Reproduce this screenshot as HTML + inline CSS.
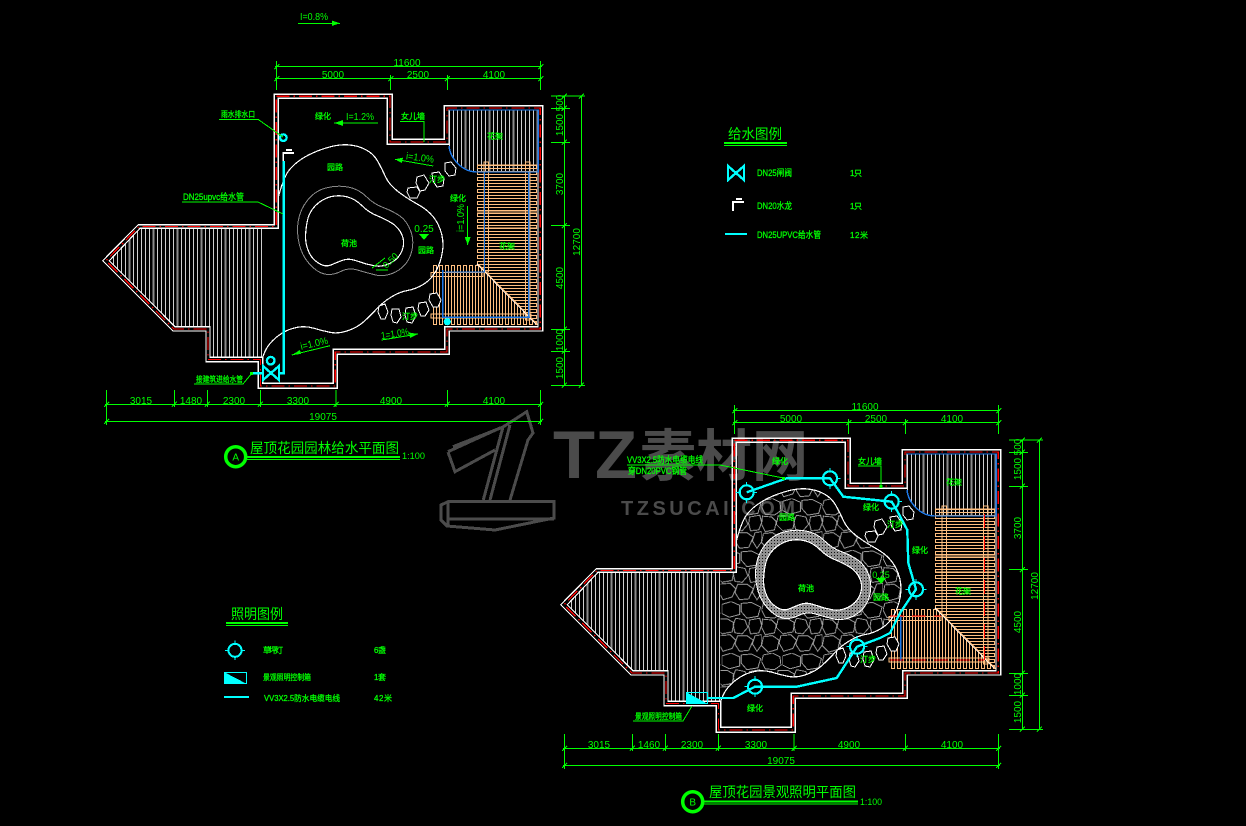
<!DOCTYPE html>
<html><head><meta charset="utf-8"><style>
html,body{margin:0;padding:0;background:#000}
svg{display:block}
text{fill:#0f0;font-family:"Liberation Sans","Noto Sans CJK SC",sans-serif;font-size:10px}
.c{font-size:8px;text-anchor:middle;stroke:#0f0;stroke-width:.3}
.l{font-size:8px;stroke:#0f0;stroke-width:.3}
.m{text-anchor:middle}
.t{font-size:14px}
.w{fill:#4b4b4b;font-weight:bold}
.ln{fill:none;stroke:#fff;stroke-width:1.2}
.gr{fill:none;stroke:#0f0;stroke-width:1}
.cy{fill:none;stroke:#0ff;stroke-width:2.4}
.bl{fill:none;stroke:#1e78e6;stroke-width:1.4}
</style></head><body>
<svg xmlns="http://www.w3.org/2000/svg" width="1246" height="826" viewBox="0 0 1246 826" shape-rendering="crispEdges">
<defs>
<marker id="k" markerUnits="userSpaceOnUse" markerWidth="10" markerHeight="10" refX="5" refY="5" orient="0" overflow="visible"><path d="M2.5 7.5L7.5 2.5M3.5 5H6.5" stroke="#0f0" stroke-width="1" fill="none"/></marker>
<pattern id="hatch" patternUnits="userSpaceOnUse" width="24" height="20">
<path d="M1.5 0V20M5.5 0V20M13.5 0V20M17.5 0V20M21.5 0V20" stroke="#cfcfcf" stroke-width="1"/>
<path d="M9.5 0V20" stroke="#8c8c8c" stroke-width="2"/>
</pattern>
<pattern id="plankH" patternUnits="userSpaceOnUse" x="477" y="165" width="60" height="6">
<rect x=".5" y=".5" width="59" height="3" fill="none" stroke="#ffbf80" stroke-width="1"/>
</pattern>
<pattern id="plankV" patternUnits="userSpaceOnUse" x="433" y="265" width="6" height="60">
<rect x=".5" y=".5" width="3" height="59" fill="none" stroke="#ffbf80" stroke-width="1"/>
</pattern>
<pattern id="cob" patternUnits="userSpaceOnUse" width="66" height="56" patternTransform="scale(.92)">
<g fill="none" stroke="#a4a4a4" stroke-width="1">
<path d="M2 2L12 0L20 4L21 13L14 18L4 17L0 9Z"/>
<path d="M23 3L33 0L42 4L42 14L31 17L23 13Z"/>
<path d="M44 2L55 1L65 6L62 16L50 18L44 11Z"/>
<path d="M1 19L11 20L16 25L14 34L4 36L0 28Z"/>
<path d="M18 19L29 19L36 23L34 33L23 35L16 28Z"/>
<path d="M38 18L48 20L51 28L45 35L37 34L35 25Z"/>
<path d="M53 20L64 18L66 26L63 34L54 35L52 27Z"/>
<path d="M2 38L12 37L19 42L17 52L7 55L0 48Z"/>
<path d="M21 37L32 36L38 42L34 51L24 54L19 45Z"/>
<path d="M40 37L50 37L57 42L52 53L42 54L37 46Z"/>
<path d="M59 37L66 36L66 47L61 54L56 46Z"/>
</g>
</pattern>
<pattern id="mesh" patternUnits="userSpaceOnUse" width="3" height="3">
<rect width="3" height="3" fill="#909090"/>
<rect x="1" y="1" width="1" height="1" fill="#111"/>
</pattern>
<path id="outer" d="M274.3 94.3H392.3V139.3H444.3V105.7H542.7V331H449.3V354.3H337.3V388.3H258.3V361.7H206V331H173L102.7 260.7L138.3 224.7H274.3Z"/>
<path id="inner" d="M278.3 98.3H387.3V144.3H449V110H538V326.7H444.7V349.3H333.3V383.3H262.7V357.3H210V326.7H175L109.3 260.7L140 228.3H278.3Z"/>
<path id="red" d="M276.3 96.3H390V142H447V108H540.3V329H447V352H335.3V386H260.5V359.5H208V329H174L106 260.7L139 226.5H276.3Z"/>
<path id="garden" d="M278.7 195.7Q283.7 177.4 288.7 170.7Q293.7 164 302.9 158.2Q312 152.4 325.4 148.2Q338.7 144 348.7 144.9Q358.7 145.7 366.2 149.9Q373.7 154 377.9 161.5Q382 169 385.4 176.5Q388.7 184 397 190.7Q405.3 197.4 418.7 204.9Q432 212.4 437.9 224Q443.7 235.7 442.9 247.4Q442 259 437 269Q432 279 424 284Q416 289 408 290.4Q400 291.7 391.7 296.7Q383.3 301.7 376.7 308.9Q370 316 364 321.5Q358 327 348.4 330.5Q338.7 334 330.4 332.4Q322 330.7 313.7 328.2Q305.3 325.7 297 327.4Q288.7 329 282 333.2Q275.3 337.4 270.3 343.2Q265.3 349 262.7 357.4"/>
<path id="p1" d="M307 222.4Q308.7 212.4 315.3 205.7Q322 199 330.3 196.8Q338.7 194.7 347 196.8Q355.3 199 362 205.7Q368.7 212.4 377 215.7Q385.3 219 392 223.2Q398.7 227.4 402 234.9Q405.3 242.4 402 250.7Q398.7 259 390.3 263.2Q382 267.4 373.7 265.7Q365.3 264 357 261Q348.7 258 342.8 260.2Q337 262.4 331.1 264.9Q325.3 267.4 318.7 263.2Q312 259 309 252.4Q306 245.7 305.6 239Q305.3 232.4 307 222.4Z"/>
<path id="p2" d="M298.3 220.7Q300.3 209 307.8 199.9Q315.3 190.7 326.2 187.9Q337 185 347.9 187Q358.7 189 366.2 196.5Q373.7 204 382.9 207.4Q392 210.7 399.5 215.7Q407 220.7 410.9 231.6Q414.7 242.4 410.9 254Q407 265.7 396.2 271.6Q385.3 277.4 375.3 274.9Q365.3 272.4 357 269.9Q348.7 267.4 340.4 271.6Q332 275.7 324.5 274Q317 272.4 309.5 264Q302 255.7 299.2 244Q296.3 232.4 298.3 220.7Z"/>
<path id="h1" d="M140 228.3H262.7V357.3H210V326.7H175L109.3 260.7Z"/>
<path id="h2" d="M449 110H538V172H476.7L470 171L460 165L451.7 156.7L449 146Z"/>
<g id="stones" fill="#000" stroke="#fff" stroke-width="1" stroke-linejoin="round">
<path d="M445 163L451 162L456 168L455 175L449 176L445 171Z"/>
<path d="M432 173L439 172L444 179L443 186L437 187L433 181Z"/>
<path d="M417 177L424 175L429 183L425 190L420 191L416 183Z"/>
<path d="M408 188L417 187L420 192L417 198L410 198L407 192Z"/>
<path d="M430 294L437 293L441 300L438 307L433 307L429 300Z"/>
<path d="M419 303L426 302L429 310L425 316L421 316L418 309Z"/>
<path d="M406 308L413 307L416 316L412 323L407 322L405 315Z"/>
<path d="M392 309L399 309L401 317L397 323L393 322L391 315Z"/>
<path d="M379 306L385 304L388 312L385 319L381 319L378 312Z"/>
</g>
<g id="deck">
<path d="M477 165H537V325L477 265Z" fill="url(#plankH)"/>
<path d="M433 265H478L537 325H433Z" fill="url(#plankV)"/>
<path d="M484 162h4.7v110h-4.7zM525.3 162H530V320h-4.7zM431 272.3h52v4h-52zM431 314h100v4H431z" fill="none" stroke="#ffbf80" stroke-width="1"/>
<path d="M477 165H537M477 172H537M477 212H537M477 228H537" stroke="#ffbf80" stroke-width="1.4"/>
<path d="M477 264L536 324" stroke="#fff" stroke-width="1"/>
<path d="M479 265L538 325" stroke="#ffbf80" stroke-width="1"/>
</g>
<g id="dims" class="gr" stroke="#0f0" fill="none">
<path d="M276.7 61V90M540.7 61V90M390.7 75V90M447.3 75V90M106.7 390V425M174.3 390V407M207.3 390V407M260.3 390V407M336 390V407M447.3 390V407M540.7 390V425M551 96H585M551 108.3H570M551 142.3H570M551 225.7H570M551 329.3H570M551 351.3H570M551 385.3H585"/>
<polyline points="276.7,66.7 540.7,66.7" marker-start="url(#k)" marker-end="url(#k)"/>
<polyline points="276.7,78.7 390.7,78.7 447.3,78.7 540.7,78.7" marker-start="url(#k)" marker-mid="url(#k)" marker-end="url(#k)"/>
<polyline points="106.7,404.3 174.3,404.3 207.3,404.3 260.3,404.3 336,404.3 447.3,404.3 540.7,404.3" marker-start="url(#k)" marker-mid="url(#k)" marker-end="url(#k)"/>
<polyline points="106.7,421.3 540.7,421.3" marker-start="url(#k)" marker-end="url(#k)"/>
<polyline points="564.3,96 564.3,108.3 564.3,142.3 564.3,225.7 564.3,329.3 564.3,351.3 564.3,385.3" marker-start="url(#k)" marker-mid="url(#k)" marker-end="url(#k)"/>
<polyline points="581.3,96 581.3,385.3" marker-start="url(#k)" marker-end="url(#k)"/>
</g>
<g id="walls">
<use href="#outer" class="ln"/>
<use href="#inner" class="ln"/>
<use href="#red" fill="none" stroke="#f00" stroke-width="1.3" stroke-dasharray="13 4 1.5 4"/>
</g>
<g id="lamp">
<circle r="7" fill="none" stroke="#0ff" stroke-width="2.2"/>
<path d="M0 -10.5V-7M0 7V10.5M-10.5 0H-7M7 0H10.5" stroke="#0ff" stroke-width="1"/>
</g>
</defs>
<rect width="1246" height="826" fill="#000"/>

<!-- watermark -->
<g fill="none" stroke="#4b4b4b" stroke-width="3">
<path d="M441 505L448 501.7H554V518L495 530L447 526L441 520ZM448 502V526M448 519H554"/>
<path d="M483.3 500L503 427L526.7 411.7L533 433L528 440L510 500M490 500L510 425"/>
<path d="M448 451.7L500 428M448 452L455 471.7L495 450M453 446.7L503 427"/>
</g>
<text class="w" x="553" y="478" style="font-size:68px" textLength="84" lengthAdjust="spacingAndGlyphs">TZ</text>
<text class="w" x="640" y="476" style="font-size:56px" textLength="168" lengthAdjust="spacingAndGlyphs">素材网</text>
<text class="w" x="621" y="515" style="font-size:20px" textLength="174">TZSUCAI.COM</text>

<!-- PLAN A -->
<g>
<use href="#h1" fill="url(#hatch)"/>
<use href="#h2" fill="url(#hatch)"/>
<use href="#deck"/>
<use href="#garden" class="ln"/>
<use href="#p2" fill="none" stroke="#8a8a8a" stroke-width="1"/>
<use href="#p1" class="ln"/>
<use href="#stones"/>
<use href="#walls"/>
<path d="M449 146C450 158 462 172 477 172H538.3V110H449" class="bl" stroke-width="1.6"/>
<path d="M484.5 172V272H445V272M442.7 270V317.3H530M528.7 172V317" class="bl"/>
<use href="#dims"/>
<!-- pipe -->
<path d="M283.7 161V373.3H279" class="cy"/>
<path d="M283.3 161V153H294M286 150H292" fill="none" stroke="#fff" stroke-width="1.8"/>
<path d="M262 373.3H252" class="cy" stroke-width="2.5"/>
<path d="M263 366L279 380V366L263 380Z" class="cy" stroke-width="2"/>
<circle cx="283.3" cy="137.7" r="3.3" fill="#000" stroke="#0ff" stroke-width="2.4"/>
<circle cx="270.7" cy="360.7" r="3.8" fill="#000" stroke="#0ff" stroke-width="2.4"/>
<circle cx="447.3" cy="321.7" r="3.6" fill="#0ff"/>
<!-- leaders -->
<path d="M298 23.3H340" class="gr"/><path d="M332 20.5L340 23.3L332 26Z" fill="#0f0"/>
<path d="M219 119.3H258L283 137" class="gr"/>
<path d="M182 202H258L283 214" class="gr"/>
<path d="M334 123H378" class="gr"/><path d="M343 120L334 123L343 126Z" fill="#0f0"/>
<path d="M400 121.3H424V142" class="gr"/>
<path d="M395 159.3L433.3 166" class="gr"/><path d="M403 157.7L395 159.3L402 163Z" fill="#0f0"/>
<path d="M467.7 206V245" class="gr"/><path d="M464.7 237H470.7L467.7 245Z" fill="#0f0"/>
<path d="M419 234H429L424 240Z" fill="#0f0"/>
<path d="M381.7 340L418 334" class="gr"/><path d="M409 332.5L418 334L410 338Z" fill="#0f0"/>
<path d="M291.7 355L330 345.7" class="gr"/><path d="M300 350L291.7 355L301 354Z" fill="#0f0"/>
<path d="M194 384H243L252 373" class="gr"/>
<rect x="250" y="372" width="3" height="3" fill="#0f0"/>
<path d="M372 268L385 258M376 270L388 270" class="gr"/>
<text x="300" y="20" textLength="28" lengthAdjust="spacingAndGlyphs">I=0.8%</text>
<text class="l" x="221" y="117" textLength="34" lengthAdjust="spacingAndGlyphs">雨水排水口</text>
<text class="l" x="183" y="200" style="font-size:9px" textLength="61" lengthAdjust="spacingAndGlyphs">DN25upvc给水管</text>
<text class="c" x="323" y="119">绿化</text>
<text x="346" y="120" textLength="28" lengthAdjust="spacingAndGlyphs">I=1.2%</text>
<text class="c" x="335" y="170">园路</text>
<text class="c" x="413" y="119">女儿墙</text>
<text class="c" x="495" y="139">花架</text>
<text x="406" y="161" transform="rotate(7 420 158)" textLength="28" lengthAdjust="spacingAndGlyphs">i=1.0%</text>
<text class="c" x="437" y="182">汀步</text>
<text class="c" x="458" y="201">绿化</text>
<text class="m" x="465" y="225" transform="rotate(-90 461 222)" textLength="28" lengthAdjust="spacingAndGlyphs">i=1.0%</text>
<text class="m" x="424" y="232">0.25</text>
<text class="c" x="426" y="253">园路</text>
<text class="c" x="507" y="249">花架</text>
<text class="c" x="349" y="246">荷池</text>
<text class="m" x="391" y="265" transform="rotate(-45 389 262)" style="font-size:9px">0.50</text>
<text x="381" y="337" transform="rotate(-9 395 334)" textLength="28" lengthAdjust="spacingAndGlyphs">1=1.0%</text>
<text class="c" x="410" y="319">汀步</text>
<text x="300" y="347" transform="rotate(-13 313 343)" textLength="28" lengthAdjust="spacingAndGlyphs">i=1.0%</text>
<text class="l" x="196" y="382" textLength="47" lengthAdjust="spacingAndGlyphs">接建筑进给水管</text>
<text class="m" x="407" y="66">11600</text><text class="m" x="333" y="78">5000</text><text class="m" x="418" y="78">2500</text><text class="m" x="494" y="78">4100</text>
<text class="m" x="141" y="404">3015</text><text class="m" x="191" y="404">1480</text><text class="m" x="234" y="404">2300</text><text class="m" x="298" y="404">3300</text><text class="m" x="391" y="404">4900</text><text class="m" x="494" y="404">4100</text><text class="m" x="323" y="420">19075</text>
<text class="m" transform="translate(563 103) rotate(-90)">500</text>
<text class="m" transform="translate(563 125) rotate(-90)">1500</text>
<text class="m" transform="translate(563 184) rotate(-90)">3700</text>
<text class="m" transform="translate(563 278) rotate(-90)">4500</text>
<text class="m" transform="translate(563 340) rotate(-90)">1000</text>
<text class="m" transform="translate(563 368) rotate(-90)">1500</text>
<text class="m" transform="translate(580 242) rotate(-90)">12700</text>
<circle cx="235.7" cy="456.7" r="10" fill="none" stroke="#0f0" stroke-width="3.5" shape-rendering="auto"/>
<text class="m" x="235.7" y="460.5">A</text>
<text class="t" x="250" y="453" textLength="149" lengthAdjust="spacingAndGlyphs">屋顶花园园林给水平面图</text>
<path d="M246 457H400" stroke="#0f0" stroke-width="2"/><path d="M246 459.5H400" stroke="#0f0" stroke-width=".8"/>
<text x="402" y="459" style="font-size:9px" textLength="23" lengthAdjust="spacingAndGlyphs">1:100</text>
</g>

<!-- Water legend -->
<text class="t" x="728" y="139" textLength="54" lengthAdjust="spacingAndGlyphs">给水图例</text>
<path d="M724 143H787" stroke="#0f0" stroke-width="2"/><path d="M724 145.5H787" stroke="#0f0" stroke-width=".8"/>
<path d="M728 166L744 180V166L728 180Z" class="cy"/>
<text class="l" x="757" y="176" style="font-size:9px" textLength="35" lengthAdjust="spacingAndGlyphs">DN25闸阀</text>
<text class="l" x="850" y="176" textLength="12">1只</text>
<path d="M733 211V202H744M736 199H742" fill="none" stroke="#fff" stroke-width="2"/>
<text class="l" x="757" y="209" style="font-size:9px" textLength="35" lengthAdjust="spacingAndGlyphs">DN20水龙</text>
<text class="l" x="850" y="209" textLength="12">1只</text>
<path d="M725 234H747" class="cy"/>
<text class="l" x="757" y="238" style="font-size:9px" textLength="64" lengthAdjust="spacingAndGlyphs">DN25UPVC给水管</text>
<text class="l" x="850" y="238" textLength="18">12米</text>

<!-- Light legend -->
<text class="t" x="231" y="619" textLength="52" lengthAdjust="spacingAndGlyphs">照明图例</text>
<path d="M226 623H288" stroke="#0f0" stroke-width="2"/><path d="M226 625.5H288" stroke="#0f0" stroke-width=".8"/>
<use href="#lamp" transform="translate(235 650.3) scale(.93)"/>
<text class="l" x="263" y="653" textLength="20">草坪灯</text>
<text class="l" x="374" y="653" textLength="12">6盏</text>
<rect x="224.5" y="672.5" width="22" height="11" fill="#000" stroke="#0ff"/>
<path d="M224 672L247 684H224Z" fill="#0ff"/>
<text class="l" x="263" y="680" textLength="48" lengthAdjust="spacingAndGlyphs">景观照明控制箱</text>
<text class="l" x="374" y="680" textLength="12">1套</text>
<path d="M224 697H249" class="cy"/>
<text class="l" x="264" y="701" textLength="76" lengthAdjust="spacingAndGlyphs">VV3X2.5防水电缆电线</text>
<text class="l" x="374" y="701" textLength="18">42米</text>

<!-- PLAN B -->
<g transform="translate(458 344)">
<path d="M278.7 195.7Q283.7 177.4 288.7 170.7Q293.7 164 302.9 158.2Q312 152.4 325.4 148.2Q338.7 144 348.7 144.9Q358.7 145.7 366.2 149.9Q373.7 154 377.9 161.5Q382 169 385.4 176.5Q388.7 184 397 190.7Q405.3 197.4 418.7 204.9Q432 212.4 437.9 224Q443.7 235.7 442.9 247.4Q442 259 437 269Q432 279 424 284Q416 289 408 290.4Q400 291.7 391.7 296.7Q383.3 301.7 376.7 308.9Q370 316 364 321.5Q358 327 348.4 330.5Q338.7 334 330.4 332.4Q322 330.7 313.7 328.2Q305.3 325.7 297 327.4Q288.7 329 282 333.2Q275.3 337.4 270.3 343.2Q265.3 349 262.7 357.4V228.3H278.7Z" fill="url(#cob)"/>
<use href="#h1" fill="url(#hatch)"/>
<use href="#h2" fill="url(#hatch)"/>
<use href="#deck"/>
<use href="#garden" class="ln"/>
<use href="#p2" fill="#000"/>
<use href="#p2" fill="url(#mesh)" stroke="#fff" stroke-width="1"/>
<use href="#p1" fill="#000" stroke="#fff" stroke-width="1.2"/>
<use href="#stones"/>
<use href="#walls"/>
<path d="M449 146C450 158 462 172 477 172H538.3V110H449" class="bl" stroke-width="1.6"/>
<path d="M442.7 272V317" class="bl"/>
<path d="M526.3 170V317M432 272H483M432 316H526" fill="none" stroke="#f00" stroke-width="1" stroke-dasharray="14 8"/>
<use href="#dims"/>
</g>
<!-- light wiring -->
<path d="M708 698H733.3L755 686.7H796.7L836.7 678L857 646.7L880 638L890 633L900 613L916 589.3L908.3 563L907.3 530L896.7 510L891.7 501.7L843.3 496.7L830 478.3H786.7L746.7 492.3" class="cy" stroke-linejoin="round"/>
<use href="#lamp" transform="translate(755 686.7)"/>
<use href="#lamp" transform="translate(857 646.7)"/>
<use href="#lamp" transform="translate(916 589.3)"/>
<use href="#lamp" transform="translate(891.7 501.7)"/>
<use href="#lamp" transform="translate(830 478.3)"/>
<use href="#lamp" transform="translate(746.7 492.3)"/>
<rect x="686.5" y="692.5" width="21" height="11" fill="none" stroke="#0ff"/>
<path d="M686 692L708 704H686Z" fill="#0ff"/>
<path d="M627 465H720L783 478" class="gr"/>
<rect x="782" y="477" width="3" height="3" fill="#0f0"/>
<path d="M633 721H683L692 706" class="gr"/>
<path d="M858 466H881V487" class="gr"/><rect x="879.5" y="485" width="3" height="3" fill="#0f0"/>
<path d="M876 578H886L881 584Z" fill="#0f0"/>
<text class="l" x="627" y="463" style="font-size:9px" textLength="76" lengthAdjust="spacingAndGlyphs">VV3X2.5防水电缆电线</text>
<text class="l" x="628" y="474" style="font-size:9px" textLength="59" lengthAdjust="spacingAndGlyphs">穿DN20PVC钢管</text>
<text class="c" x="780" y="464">绿化</text>
<text class="c" x="870" y="464">女儿墙</text>
<text class="c" x="787" y="520">园路</text>
<text class="c" x="871" y="510">绿化</text>
<text class="c" x="895" y="527">汀步</text>
<text class="c" x="920" y="553">绿化</text>
<text class="m" x="881" y="578" style="font-size:9px">0.25</text>
<text class="c" x="881" y="600">园路</text>
<text class="c" x="954" y="485">花架</text>
<text class="c" x="963" y="594">花架</text>
<text class="c" x="806" y="591">荷池</text>
<text class="c" x="755" y="711">绿化</text>
<text class="c" x="868" y="662">汀步</text>
<text class="l" x="635" y="719" textLength="47" lengthAdjust="spacingAndGlyphs">景观照明控制箱</text>
<g transform="translate(458 344)">
<text class="m" x="407" y="66">11600</text><text class="m" x="333" y="78">5000</text><text class="m" x="418" y="78">2500</text><text class="m" x="494" y="78">4100</text>
<text class="m" x="141" y="404">3015</text><text class="m" x="191" y="404">1460</text><text class="m" x="234" y="404">2300</text><text class="m" x="298" y="404">3300</text><text class="m" x="391" y="404">4900</text><text class="m" x="494" y="404">4100</text><text class="m" x="323" y="420">19075</text>
<text class="m" transform="translate(563 103) rotate(-90)">500</text>
<text class="m" transform="translate(563 125) rotate(-90)">1500</text>
<text class="m" transform="translate(563 184) rotate(-90)">3700</text>
<text class="m" transform="translate(563 278) rotate(-90)">4500</text>
<text class="m" transform="translate(563 340) rotate(-90)">1000</text>
<text class="m" transform="translate(563 368) rotate(-90)">1500</text>
<text class="m" transform="translate(580 242) rotate(-90)">12700</text>
</g>
<circle cx="692.7" cy="801.7" r="10" fill="none" stroke="#0f0" stroke-width="3.5" shape-rendering="auto"/>
<text class="m" x="692.7" y="805.5">B</text>
<text class="t" x="709" y="797" textLength="147" lengthAdjust="spacingAndGlyphs">屋顶花园景观照明平面图</text>
<path d="M704 801.7H858" stroke="#0f0" stroke-width="2"/><path d="M704 804H858" stroke="#0f0" stroke-width=".8"/>
<text x="860" y="805" style="font-size:9px" textLength="22" lengthAdjust="spacingAndGlyphs">1:100</text>
</svg>
</body></html>
